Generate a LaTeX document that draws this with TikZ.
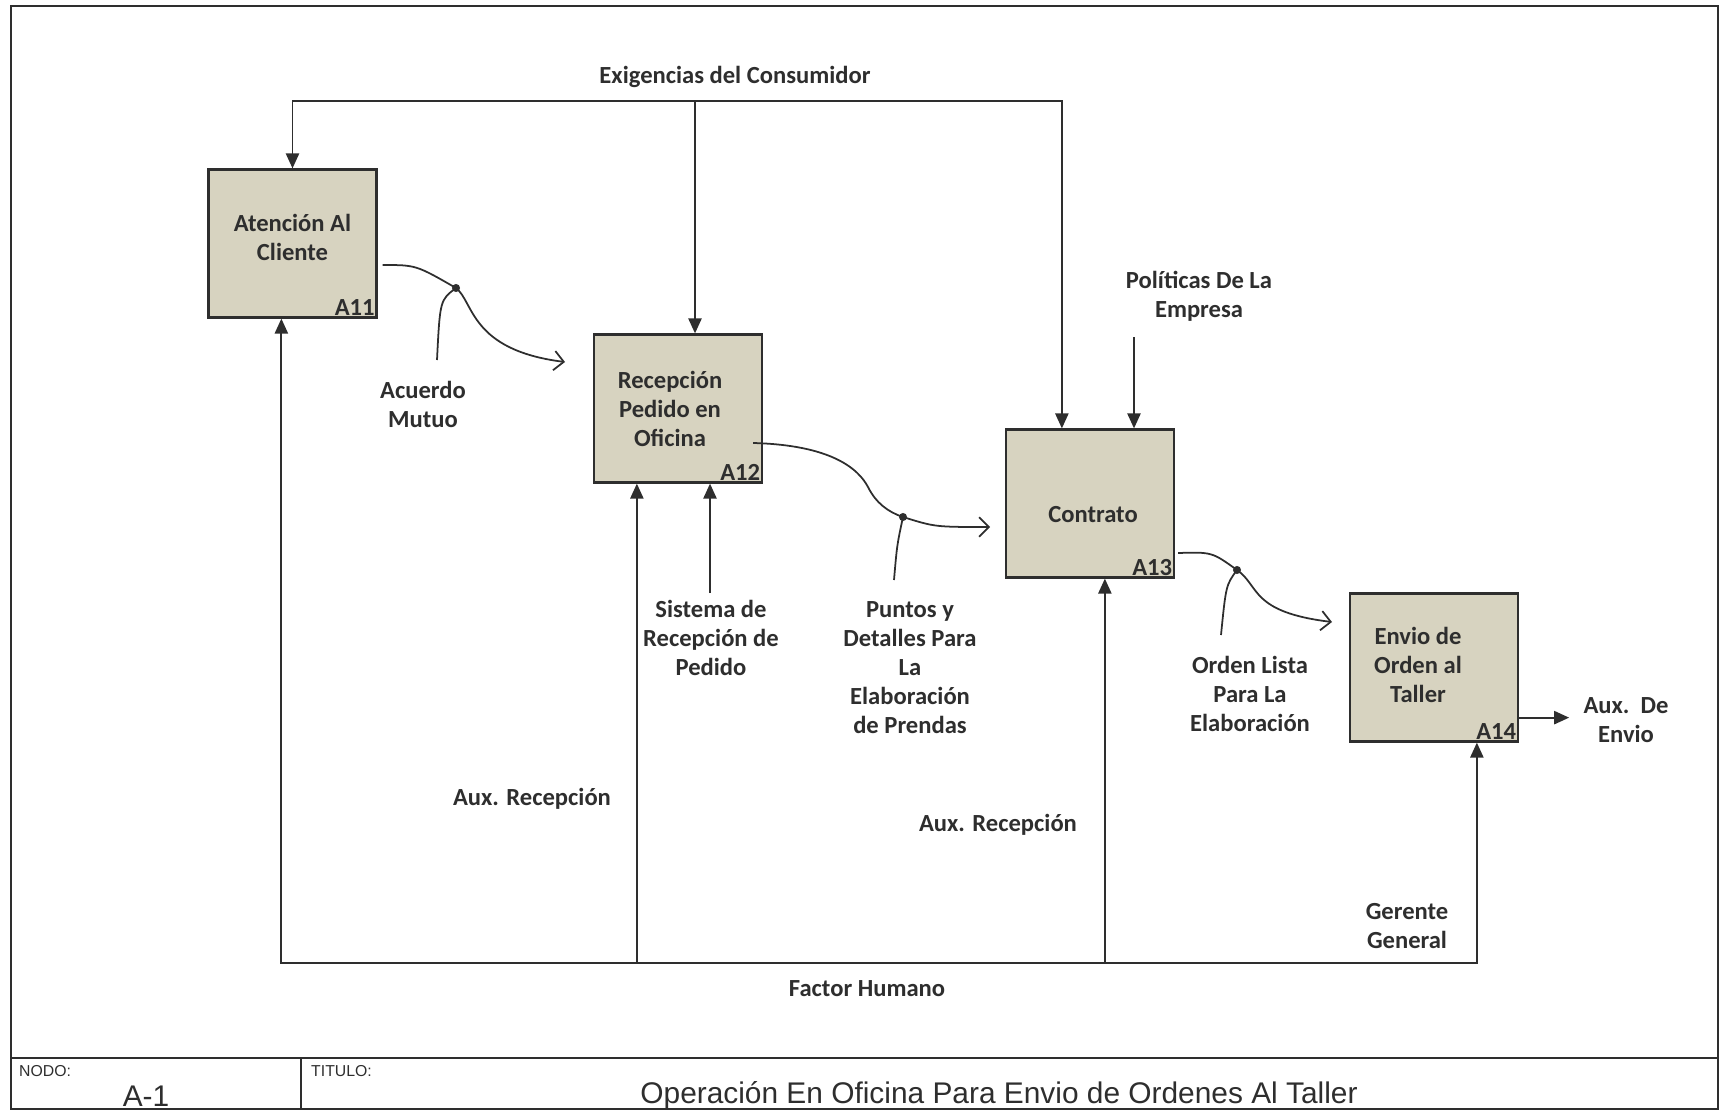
\documentclass[tikz,border=0pt]{standalone}
\usepackage{fontspec}
\setmainfont{Carlito}
\newfontfamily\arialfont{Liberation Sans}
\usetikzlibrary{arrows.meta,calc}
\definecolor{ink}{gray}{0.18}
\definecolor{procfill}{HTML}{D7D3C0}

\begin{document}
\begin{tikzpicture}[x=0.02cm, y=-0.02cm,
    every node/.style={font=\bfseries\fontsize{14}{16.5}\selectfont, align=center, text=ink},
    proc/.style={draw=ink, line width=1.3pt, fill=procfill, minimum width=3.36cm, minimum height=2.96cm, inner sep=0pt},
    flow/.style={draw=ink, line width=1pt, -{Triangle[length=8.5pt,width=7.5pt]}},
    mech/.style={draw=ink, line width=1pt, -{Straight Barb[length=5.5pt,width=11pt]}},
    tunnel/.style={draw=ink, line width=1pt},
    small/.style={font=\arialfont\fontsize{9}{10}\selectfont, anchor=west},
    big/.style={font=\arialfont\fontsize{17}{19}\selectfont}]
  \useasboundingbox (0,0) rectangle (1721,1112);

  % marco y cajetin
  \draw[ink, line width=1.2pt] (11,6) rectangle (1718,1109);
  \draw[ink, line width=1pt] (11,1058) -- (1718,1058) (301,1058) -- (301,1109);
  \node[small] (nodo) at (13,1071) {NODO:};
  \node[big] (nodoval) at (146,1096) {A-1};
  \node[small] (titulo) at (305,1071) {TITULO:};
  \node[big] (tituloval) at (999,1096) {Operación En Oficina Para Envio de Ordenes Al Taller};

  % actividades
  \foreach \n/\l/\x/\y/\dx/\dy/\t in {a11/A11/292.5/243.5/0/-6/{Atención Al\\Cliente},
      a12/A12/678/408.5/-8/0/{Recepción\\Pedido en\\Oficina},
      a13/A13/1090/503.5/3/11/{Contrato},
      a14/A14/1434/667.5/-16/-3/{Envio de\\Orden al\\Taller}}{
    \node[proc] (\n) at (\x,\y) {};
    \node (\n txt) at (\x+\dx,\y+\dy) {\t};
    \node[anchor=south east, inner sep=1.5pt] (\n id) at (\n.south east) {\l};
  }

  % controles
  \node (exi) at (735,77) {Exigencias del Consumidor};
  \coordinate (ec) at (695,101);
  \draw[flow] (ec) -| (a11.north);
  \draw[flow] (ec) -- (a12.north -| ec);
  \draw[flow] (ec) -| ($(a13.north west)+(57,0)$);
  \node (pol) at (1199,296) {Políticas De La\\Empresa};
  \coordinate (pc) at (1134,337);
  \draw[flow] (pc) -- (pc |- a13.north);

  % mecanismos
  \node (fac) at (867,989) {Factor Humano};
  \coordinate (fh) at (867,963);
  \draw[flow] (fh) -| ($(a11.south west)+(74,0)$);
  \draw[flow] (fh) -| ($(a12.south west)+(44,0)$);
  \draw[flow] (fh) -| ($(a13.south west)+(100,0)$);
  \draw[flow] (fh) -| ($(a14.south west)+(128,0)$);
  \node (aux1) at (532,799) {Aux. Recepción};
  \node (aux2) at (998,825) {Aux. Recepción};
  \node (ger) at (1407,926) {Gerente\\General};

  \node (sis) at (711,638) {Sistema de\\Recepción de\\Pedido};
  \coordinate (sc) at (710,593);
  \draw[flow] (sc) -- (sc |- a12.south);

  % salidas entre actividades
  \coordinate (j1) at (456,288);
  \coordinate (e1) at (565,362);
  \coordinate (b1) at (437,360);
  \draw[mech] ($(a11.east)+(5,21.5)$) .. controls (416,265) .. (j1)
    .. controls (474,302) and (470,350) .. (e1);
  \draw[tunnel] (b1) .. controls (440,300) .. (j1);
  \fill[ink] (j1) circle (2.3pt);
  \node (acu) at (423,404) {Acuerdo\\Mutuo};

  \coordinate (j2) at (903,517);
  \coordinate (e2) at (990,527);
  \coordinate (b2) at (894,580);
  \draw[mech] ($(a12.east)+(-10,34.5)$) .. controls (830,445) and (858,468) .. (868,487)
    .. controls (876,503) and (888,512) .. (j2) .. controls (935,527) .. (e2);
  \draw[tunnel] (b2) .. controls (897,545) .. (j2);
  \fill[ink] (j2) circle (2.3pt);
  \node (pun) at (910,668) {Puntos y\\Detalles Para\\La\\Elaboración\\de Prendas};

  \coordinate (j3) at (1237,570);
  \coordinate (e3) at (1332,622);
  \coordinate (b3) at (1221,635);
  \draw[mech] ($(a13.east)+(3,49.5)$) .. controls (1212,552) .. (j3)
    .. controls (1260,586) and (1250,612) .. (e3);
  \draw[tunnel] (b3) .. controls (1226,585) .. (j3);
  \fill[ink] (j3) circle (2.3pt);
  \node (ord) at (1250,694) {Orden Lista\\Para La\\Elaboración};

  % salida final
  \node (env) at (1626,720) {Aux.\ \ De\\Envio};
  \draw[flow] ($(a14.south east)+(0,-25)$) -- ($(a14.south east)+(50,-25)$);
\end{tikzpicture}
\end{document}
